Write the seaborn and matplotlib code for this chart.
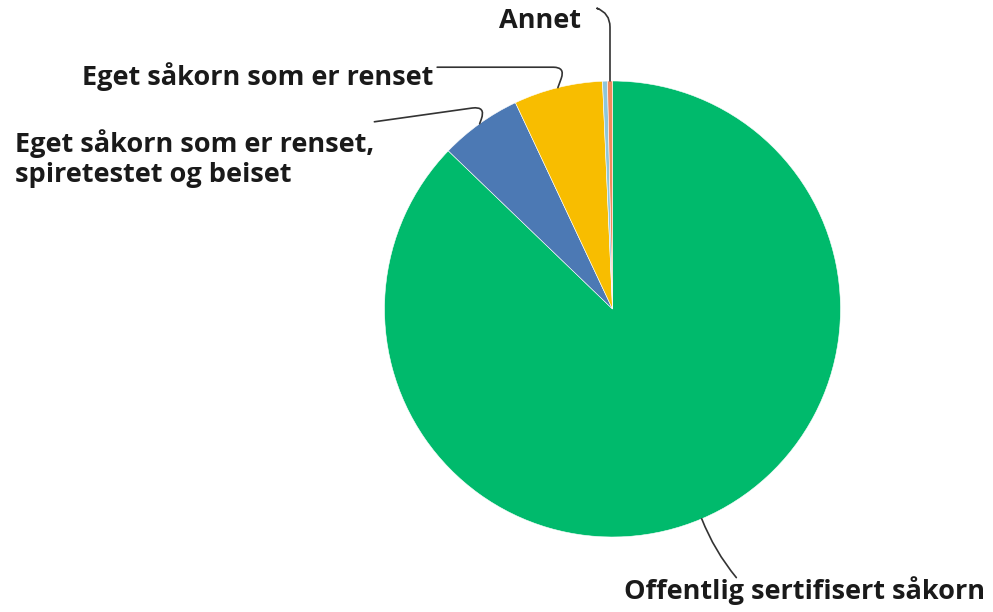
import matplotlib
matplotlib.use("Agg")
import matplotlib.pyplot as plt
import numpy as np
import seaborn as sns

# slice shares (%), clockwise from 12 o'clock
categories = [
    "Offentlig sertifisert såkorn",
    "Eget såkorn som er renset,\nspiretestet og beiset",
    "Eget såkorn som er renset",
    "",
    "Annet",
]
shares = [87.2, 5.8, 6.3, 0.35, 0.35]
colors = ["#00BA6C", "#4C79B4", "#F8BD00", "#8EC6DA", "#F08A5B"]

# text positions (data units, pie radius = 1)
label_pos = [(0.844, -1.235), (-2.62, 0.66), (-1.555, 1.02), (0, 0), (-0.32, 1.265)]
label_ha = ["center", "left", "center", "center", "center"]
conn_styles = [
    "arc3,rad=-0.08",
    "angle,angleA=8,angleB=70,rad=14",
    "angle,angleA=0,angleB=70,rad=12",
    "arc3",
    "angle,angleA=-20,angleB=90,rad=14",
]
# leader start as fraction of the text box (x, y)
leader_from = [(0.31, 0.95), (1.0, 1.12), (1.01, 0.82), (0, 0), (1.22, 0.95)]

sns.set_theme(style="white")
plt.rcParams["font.family"] = ["Open Sans", "DejaVu Sans"]

fig = plt.figure(figsize=(9.93, 6.12), dpi=100)
ax = fig.add_axes([0, 0, 1, 1])

wedges, _ = ax.pie(
    shares,
    colors=colors,
    startangle=90,
    counterclock=False,
    radius=1,
    wedgeprops={"edgecolor": "white", "linewidth": 0.4},
)

ax.set_xlim(-612.5 / 228, (993 - 612.5) / 228)
ax.set_ylim(-(612 - 309) / 228, 309 / 228)
ax.axis("off")

renderer = fig.canvas.get_renderer()
for w, lab, pos, ha, cs, lf in zip(wedges, categories, label_pos, label_ha, conn_styles, leader_from):
    if not lab:
        continue
    mid = np.deg2rad((w.theta1 + w.theta2) / 2)
    anchor = (np.cos(mid), np.sin(mid))
    t = ax.text(pos[0], pos[1], lab, ha=ha, va="center", fontsize=19.5,
                fontweight="bold", color="#1a1a1a", linespacing=1.22)
    bb = t.get_window_extent(renderer).transformed(ax.transData.inverted())
    start = (bb.x0 + lf[0] * bb.width, bb.y0 + lf[1] * bb.height)
    ax.annotate(
        "",
        xy=anchor,
        xytext=start,
        arrowprops=dict(arrowstyle="-", color="#333333", lw=1.2,
                        connectionstyle=cs, shrinkA=0, shrinkB=0),
    )

fig.savefig("out.png", dpi=100)
